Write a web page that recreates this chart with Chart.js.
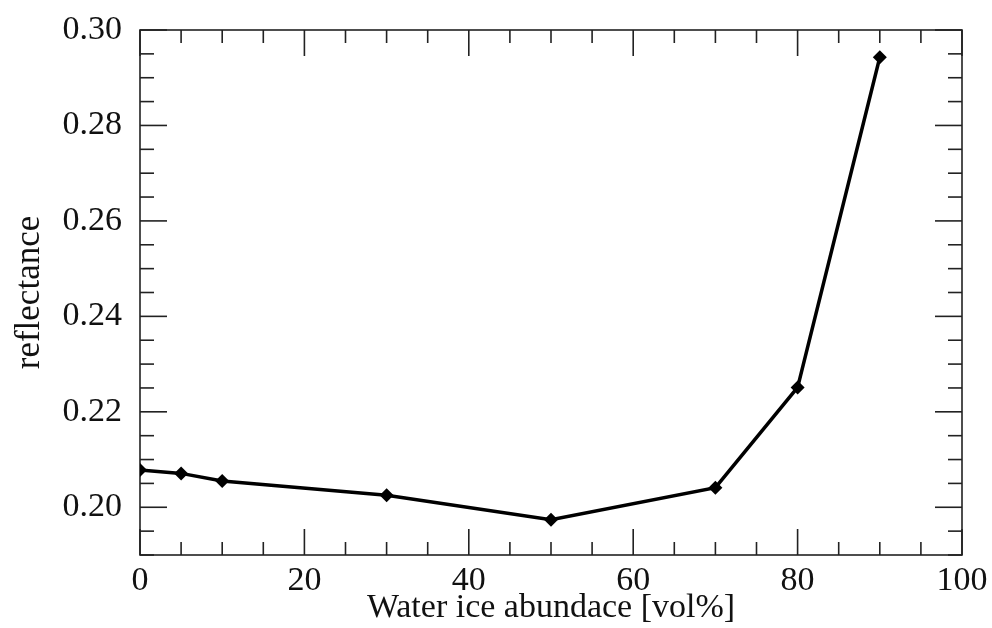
<!DOCTYPE html>
<html>
<head>
<meta charset="utf-8">
<script src="https://cdn.jsdelivr.net/npm/chart.js@4/dist/chart.umd.min.js"></script>
<style>
  html, body { margin: 0; padding: 0; background: #fff; }
  canvas { display: block; }
</style>
</head>
<body>
<canvas id="chart" width="992" height="628"></canvas>
<script>
// Water ice abundance vs reflectance
const abundance = [0, 5, 10, 30, 50, 70, 80, 90];
const reflectance = [0.2078, 0.2071, 0.2055, 0.2025, 0.1974, 0.2041, 0.2251, 0.2943];

const xTicks = [0, 20, 40, 60, 80, 100];
const yTicks = [0.20, 0.22, 0.24, 0.26, 0.28, 0.30];

const SERIF = '"Liberation Serif", "Times New Roman", serif';

// inward ticks on all four sides, like the original plot
const frameTicks = {
    id: 'frameTicks',
    beforeDatasetsDraw(chart) {
        const { ctx, chartArea: a, scales: { x, y } } = chart;
        const seg = (x1, y1, x2, y2) => {
            ctx.beginPath();
            ctx.moveTo(x1, y1);
            ctx.lineTo(x2, y2);
            ctx.stroke();
        };
        ctx.save();
        ctx.strokeStyle = '#222';
        ctx.lineWidth = 1.6;
        ctx.strokeRect(a.left, a.top, a.right - a.left, a.bottom - a.top);

        // x: minor every 5
        for (let k = 0; k <= 20; k++) {
            const px = x.getPixelForValue(k * 5);
            const len = k % 4 === 0 ? 26 : 13;
            seg(px, a.bottom, px, a.bottom - len);
            seg(px, a.top, px, a.top + len);
        }
        // y: minor every 0.005
        for (let k = 38; k <= 60; k++) {
            const py = y.getPixelForValue(k * 0.005);
            const len = k % 4 === 0 ? 27 : 14;
            seg(a.left, py, a.left + len, py);
            seg(a.right, py, a.right - len, py);
        }
        ctx.restore();
    }
};

new Chart(document.getElementById('chart'), {
    type: 'line',
    data: {
        datasets: [{
            data: abundance.map((v, i) => ({ x: v, y: reflectance[i] })),
            borderColor: '#000',
            backgroundColor: '#000',
            borderWidth: 3.5,
            pointStyle: 'rectRot',
            pointRadius: 7,
            pointBorderWidth: 0,
            tension: 0,
        }]
    },
    options: {
        responsive: false,
        animation: false,
        layout: { padding: { left: 0, top: 30, right: 30, bottom: 0 } },
        plugins: {
            legend: { display: false },
            tooltip: { enabled: false },
        },
        scales: {
            x: {
                type: 'linear',
                min: 0,
                max: 100,
                afterBuildTicks: s => { s.ticks = xTicks.map(v => ({ value: v })); },
                afterFit: s => {
                    s.height = 73;
                    s.paddingLeft = 0;
                    s.paddingRight = 0;
                },
                grid: { display: false, drawTicks: false },
                border: { display: false },
                ticks: {
                    padding: 6,
                    color: '#111',
                    font: { family: SERIF, size: 34 },
                    callback: v => String(v),
                },
                title: {
                    display: true,
                    text: 'Water ice abundace [vol%]',
                    color: '#111',
                    padding: { top: 0, bottom: 3 },
                    font: { family: SERIF, size: 34, lineHeight: 1.0 },
                },
            },
            y: {
                min: 0.19,
                max: 0.30,
                afterBuildTicks: s => { s.ticks = yTicks.map(v => ({ value: v })); },
                afterFit: s => {
                    s.width = 140;
                    s.paddingTop = 0;
                    s.paddingBottom = 0;
                },
                grid: { display: false, drawTicks: false },
                border: { display: false },
                ticks: {
                    padding: 18,
                    color: '#111',
                    font: { family: SERIF, size: 34 },
                    callback: v => v.toFixed(2),
                },
                title: {
                    display: true,
                    text: 'reflectance',
                    color: '#111',
                    padding: { top: 12, bottom: 0 },
                    font: { family: SERIF, size: 35, lineHeight: 1.0 },
                },
            },
        },
    },
    plugins: [frameTicks],
});
</script>
</body>
</html>
